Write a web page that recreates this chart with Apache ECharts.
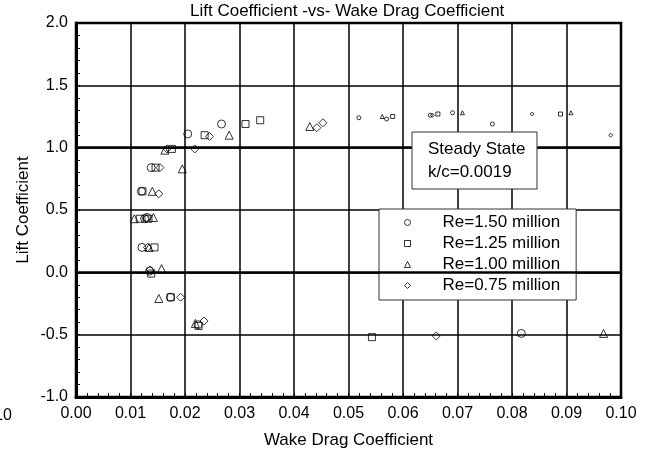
<!DOCTYPE html>
<html>
<head>
<meta charset="utf-8">
<script src="https://cdn.jsdelivr.net/npm/echarts@6.0.0/dist/echarts.min.js"></script>
<style>
  html, body { margin: 0; padding: 0; background: #fff; }
  #chart { width: 645px; height: 454px; }
</style>
</head>
<body>
<div id="chart"></div>
<script>
  // series names (legend)
  const names = ['Re=1.50 million', 'Re=1.25 million', 'Re=1.00 million', 'Re=0.75 million']

  // [wake drag coefficient, lift coefficient]
  const re150 = [[0.0205, 1.11], [0.0267, 1.19], [0.0138, 0.84], [0.0120, 0.65], [0.0126, 0.43],
    [0.0130, 0.44], [0.0121, 0.20], [0.0135, 0.01], [0.0173, -0.20], [0.0224, -0.42], [0.0817, -0.49]]
  const re150Far = [[0.0519, 1.24], [0.0570, 1.23], [0.0650, 1.26], [0.0691, 1.28], [0.0764, 1.19]]

  const re125 = [[0.0236, 1.10], [0.0311, 1.19], [0.0338, 1.22], [0.0176, 0.99], [0.0146, 0.84],
    [0.0122, 0.65], [0.0117, 0.43], [0.0133, 0.43], [0.0144, 0.20], [0.0138, -0.01], [0.0174, -0.20],
    [0.0225, -0.43], [0.0543, -0.52]]
  const re125Far = [[0.0581, 1.25], [0.0664, 1.27], [0.0889, 1.27]]

  const re100 = [[0.0281, 1.10], [0.0429, 1.17], [0.0163, 0.98], [0.0195, 0.83], [0.0140, 0.65],
    [0.0107, 0.43], [0.0142, 0.44], [0.0134, 0.20], [0.0157, 0.03], [0.0152, -0.21], [0.0219, -0.41],
    [0.0968, -0.49]]
  const re100Far = [[0.0562, 1.25], [0.0709, 1.28], [0.0908, 1.28]]

  const re075 = [[0.0245, 1.09], [0.0442, 1.16], [0.0453, 1.20], [0.0218, 0.99], [0.0167, 0.99],
    [0.0154, 0.84], [0.0152, 0.63], [0.0129, 0.43], [0.0131, 0.20], [0.0136, 0.02], [0.0192, -0.20],
    [0.0235, -0.39], [0.0661, -0.51]]
  const re075Far = [[0.0654, 1.26], [0.0837, 1.27], [0.0981, 1.10]]

  const refLines = [0, 1]   // heavy horizontal lines

  const font = 'Liberation Sans, Arial, sans-serif'

  let scatter = (name, data, symbol, size) => ({
    type: 'scatter',
    name,
    data,
    symbol,
    symbolSize: size,
    itemStyle: { color: 'rgba(0,0,0,0)', borderColor: '#000', borderWidth: 1 },
    emphasis: { disabled: true },
    silent: true,
    animation: false
  })

  let series = [
    scatter(names[0], re150, 'circle', 8),
    scatter(names[1], re125, 'rect', 7),
    scatter(names[2], re100, 'triangle', 8),
    scatter(names[3], re075, 'diamond', 8),
    scatter(names[0], re150Far, 'circle', 4),
    scatter(names[1], re125Far, 'rect', 4),
    scatter(names[2], re100Far, 'triangle', 4),
    scatter(names[3], re075Far, 'diamond', 4)
  ]
  series[0].markLine = {
    silent: true,
    symbol: 'none',
    animation: false,
    label: { show: false },
    lineStyle: { color: '#000', width: 2.5, type: 'solid' },
    data: refLines.map(v => ({ yAxis: v }))
  }

  let option = {
    backgroundColor: '#fff',
    animation: false,
    title: {
      text: 'Lift Coefficient -vs- Wake Drag Coefficient',
      left: 190,
      top: 3,
      padding: 0,
      textStyle: { fontFamily: font, fontSize: 17, fontWeight: 'normal', color: '#000' }
    },
    grid: {
      left: 76,
      right: 24,
      top: 23,
      bottom: 57,
      show: true,
      borderColor: '#000',
      borderWidth: 2.5,
      containLabel: false,
      outerBoundsMode: 'none'
    },
    xAxis: {
      type: 'value',
      min: 0,
      max: 0.1,
      interval: 0.01,
      name: 'Wake Drag Coefficient',
      nameLocation: 'middle',
      nameGap: 35,
      nameMoveOverlap: false,
      nameTextStyle: { fontFamily: font, fontSize: 17, color: '#000' },
      axisLine: { show: true, onZero: false, lineStyle: { color: '#000', width: 3 } },
      axisTick: { show: true, inside: true, length: 4, lineStyle: { color: '#000' } },
      minorTick: { show: true, splitNumber: 5, length: 4, lineStyle: { color: '#000', width: 1 } },
      splitLine: { show: true, lineStyle: { color: '#000', width: 1.5 } },
      axisLabel: {
        margin: 9,
        fontFamily: font,
        fontSize: 16,
        color: '#000',
        showMinLabel: true,
        showMaxLabel: true,
        formatter: v => v.toFixed(2)
      }
    },
    yAxis: {
      type: 'value',
      min: -1,
      max: 2,
      interval: 0.5,
      name: 'Lift Coefficient',
      nameLocation: 'middle',
      nameGap: 44,
      nameMoveOverlap: false,
      nameTextStyle: { fontFamily: font, fontSize: 17, color: '#000' },
      axisLine: { show: true, onZero: false, lineStyle: { color: '#000', width: 3 } },
      axisTick: { show: true, inside: true, length: 4, lineStyle: { color: '#000' } },
      minorTick: { show: true, splitNumber: 5, length: 4, lineStyle: { color: '#000', width: 1 } },
      splitLine: { show: true, lineStyle: { color: '#000', width: 1.5 } },
      axisLabel: {
        margin: 8,
        fontFamily: font,
        fontSize: 16,
        color: '#000',
        showMinLabel: true,
        showMaxLabel: true,
        formatter: v => v.toFixed(1)
      }
    },
    legend: {
      data: names,
      orient: 'vertical',
      left: 379,
      top: 209,
      padding: [5, 16, 6, 25],
      itemGap: 4,
      itemWidth: 6,
      itemHeight: 6,
      backgroundColor: '#fff',
      borderColor: '#333',
      borderWidth: 1,
      selectedMode: false,
      itemStyle: { color: 'rgba(0,0,0,0)', borderColor: '#000', borderWidth: 1 },
      textStyle: {
        fontFamily: font,
        fontSize: 17,
        color: '#000',
        lineHeight: 16,
        padding: [0, 0, 0, 27]
      }
    },
    graphic: [
      {
        type: 'rect',
        shape: { x: 412, y: 132, width: 125, height: 57 },
        style: { fill: '#fff', stroke: '#333', lineWidth: 1 },
        z: 100
      },
      {
        type: 'text',
        x: 428,
        y: 149,
        style: { text: 'Steady State', font: '17px ' + font, fill: '#000', verticalAlign: 'middle' },
        z: 101
      },
      {
        type: 'text',
        x: 428,
        y: 172,
        style: { text: 'k/c=0.0019', font: '17px ' + font, fill: '#000', verticalAlign: 'middle' },
        z: 101
      },
      {
        type: 'text',
        x: 12,
        y: 416,
        style: { text: '0.10', font: '16px ' + font, fill: '#000', align: 'right', verticalAlign: 'middle' },
        z: 101
      }
    ],
    series
  }

  let chart = echarts.init(document.getElementById('chart'), null, { renderer: 'canvas' })
  chart.setOption(option)
</script>
</body>
</html>
